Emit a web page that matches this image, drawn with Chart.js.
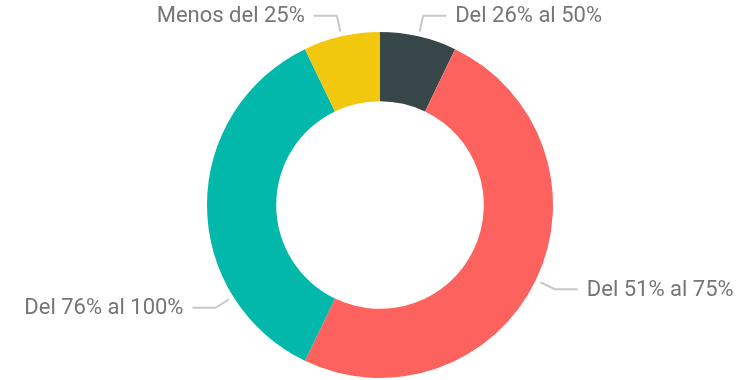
<!DOCTYPE html>
<html>
<head>
<meta charset="utf-8">
<script src="https://cdn.jsdelivr.net/npm/chart.js@4/dist/chart.umd.min.js"></script>
<style>
    html, body { margin: 0; padding: 0; background: #ffffff; }
    #wrap { width: 756px; height: 380px; position: relative; }
</style>
</head>
<body>
<div id="wrap"><canvas id="rangosChart"></canvas></div>
<script>
const categories = ['Del 26% al 50%', 'Del 51% al 75%', 'Del 76% al 100%', 'Menos del 25%'];
const counts = [2, 14, 10, 2];
const sliceColors = ['#374649', '#FD625E', '#01B8AA', '#F2C80F'];

// Etiquetas exteriores con línea guía, al estilo de Power BI
const outerLabels = {
    id: 'outerLabels',
    afterDatasetsDraw(chart, args, opts) {
        const ctx = chart.ctx;
        const meta = chart.getDatasetMeta(0);
        ctx.save();
        ctx.font = opts.font;
        ctx.textBaseline = 'middle';
        meta.data.forEach((arc, i) => {
            const p = arc.getProps(['x', 'y', 'startAngle', 'endAngle', 'outerRadius'], true);
            let a = (p.startAngle + p.endAngle) / 2;
            if (opts.angles && opts.angles[i] != null) {
                a = opts.angles[i] * Math.PI / 180 - Math.PI / 2;
            }
            const r1 = p.outerRadius + 5;
            const r2 = p.outerRadius + 21;
            const x1 = p.x + Math.cos(a) * r1;
            const y1 = p.y + Math.sin(a) * r1;
            const x2 = p.x + Math.cos(a) * r2;
            const y2 = p.y + Math.sin(a) * r2;
            const right = Math.cos(a) >= 0;
            const x3 = x2 + (right ? 23 : -23);

            ctx.strokeStyle = '#c8c8c8';
            ctx.lineWidth = 2;
            ctx.beginPath();
            ctx.moveTo(x1, y1);
            ctx.lineTo(x2, y2);
            ctx.lineTo(x3, y2);
            ctx.stroke();

            ctx.fillStyle = '#757575';
            ctx.textAlign = right ? 'left' : 'right';
            ctx.fillText(chart.data.labels[i], x3 + (right ? 9 : -9), y2 + 1);
        });
        ctx.restore();
    }
};

const ctx = document.getElementById('rangosChart').getContext('2d');
const rangosChart = new Chart(ctx, {
    type: 'doughnut',
    data: {
        labels: categories,
        datasets: [{
            data: counts,
            backgroundColor: sliceColors,
            borderWidth: 0,
            hoverOffset: 0
        }]
    },
    options: {
        responsive: true,
        maintainAspectRatio: false,
        animation: false,
        events: [],
        cutout: '60%',
        radius: 173,
        layout: {
            padding: { top: 32, bottom: 2, left: 4, right: 0 }
        },
        plugins: {
            legend: { display: false },
            tooltip: { enabled: false },
            outerLabels: {
                font: '22px Roboto',
                angles: [null, null, 238, null]
            }
        }
    },
    plugins: [outerLabels]
});
</script>
</body>
</html>
